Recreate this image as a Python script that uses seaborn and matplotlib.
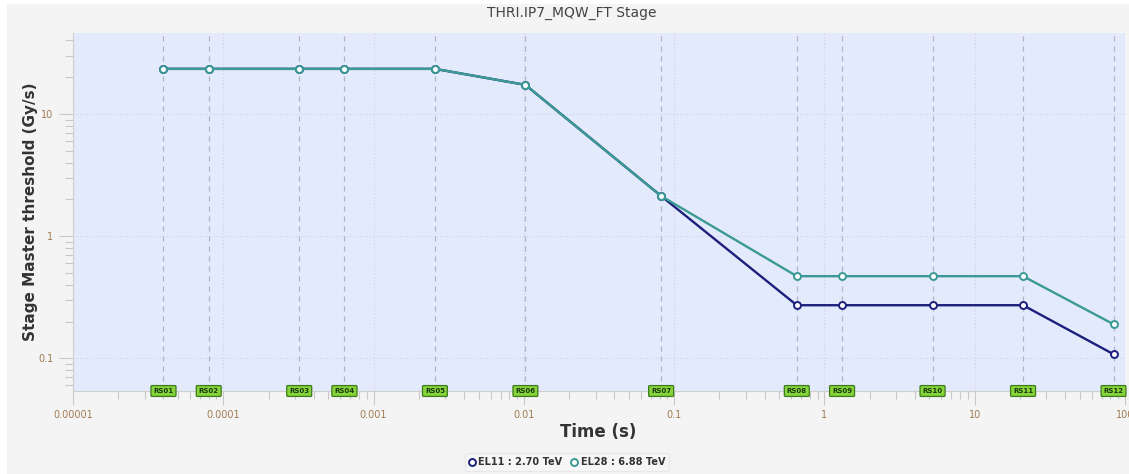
import matplotlib
matplotlib.use("Agg")
import matplotlib.pyplot as plt
import matplotlib.ticker as mticker
from matplotlib.patches import Rectangle
import seaborn as sns
import pandas as pd
import numpy as np

# ---- data ----
rs_labels = ["RS01", "RS02", "RS03", "RS04", "RS05", "RS06",
             "RS07", "RS08", "RS09", "RS10", "RS11", "RS12"]
rs_times = [4e-5, 8e-5, 3.2e-4, 6.4e-4, 2.56e-3, 1.024e-2,
            8.192e-2, 0.655, 1.31, 5.24, 20.97, 83.89]
el11_values = [23.4, 23.4, 23.4, 23.4, 23.4, 17.3,
               2.13, 0.272, 0.272, 0.272, 0.272, 0.108]
el28_values = [23.4, 23.4, 23.4, 23.4, 23.4, 17.3,
               2.13, 0.47, 0.47, 0.47, 0.47, 0.19]
series_names = ["EL11 : 2.70 TeV", "EL28 : 6.88 TeV"]
x_ticks = [1e-5, 1e-4, 1e-3, 1e-2, 1e-1, 1, 10, 100]
x_ticklabels = ["0.00001", "0.0001", "0.001", "0.01", "0.1", "1", "10", "100"]
y_ticks = [0.1, 1, 10]
y_ticklabels = ["0.1", "1", "10"]

df = pd.DataFrame({
    "time": rs_times * 2,
    "value": el11_values + el28_values,
    "series": [series_names[0]] * len(rs_times) + [series_names[1]] * len(rs_times),
})

sns.set_style("white")
plt.rcParams['font.family'] = ['DejaVu Sans']

W, H = 1129, 474
fig = plt.figure(figsize=(W / 100, H / 100), dpi=100, facecolor="white")
fig.patches.append(Rectangle((7 / W, 0), 1 - 7 / W, 1 - 4 / H, transform=fig.transFigure,
                             facecolor="#f4f4f4", edgecolor="none", zorder=-10))
ax = fig.add_axes([73 / W, 1 - 391 / H, (1125 - 73) / W, (391 - 33) / H])
ax.set_facecolor("#e3eafb")

colors = {series_names[0]: "#1c1f7c", series_names[1]: "#3b9a95"}

for name in series_names:
    sub = df[df["series"] == name]
    sns.lineplot(data=sub, x="time", y="value", ax=ax, color=colors[name],
                 linewidth=1.7, marker="o", markersize=5, markerfacecolor="white",
                 markeredgecolor=colors[name], markeredgewidth=1.4,
                 label=name, zorder=5, legend=False)

ax.set_xscale("log")
ax.set_yscale("log")
ax.set_xlim(1e-5, 100)
ax.set_ylim(0.054, 46)

# grids
for xv in x_ticks:
    ax.axvline(xv, color="#cdd2e4", linestyle=(0, (1, 2)), linewidth=0.8, zorder=1)
for yv in y_ticks:
    ax.axhline(yv, color="#cdd2e4", linestyle=(0, (1, 2)), linewidth=0.8, zorder=1)

# RS dashed lines and labels
for t, lab in zip(rs_times, rs_labels):
    ax.axvline(t, color="#b0b3c2", linestyle=(0, (4, 4)), linewidth=0.9, zorder=2)
    ax.text(t, 0.0, lab, transform=ax.get_xaxis_transform(), ha="center", va="center",
            fontsize=5, fontweight="bold", color="#1a3a10", zorder=8,
            bbox=dict(boxstyle="round,pad=0.35,rounding_size=0.15", facecolor="#86d43a",
                      edgecolor="#3d7a1e", linewidth=0.9), clip_on=False)

ax.set_xticks(x_ticks)
ax.set_xticklabels(x_ticklabels)
ax.set_yticks(y_ticks)
ax.set_yticklabels(y_ticklabels)
ax.xaxis.set_minor_locator(mticker.LogLocator(base=10, subs=np.arange(2, 10)))
ax.yaxis.set_minor_locator(mticker.LogLocator(base=10, subs=np.arange(2, 10)))
ax.xaxis.set_minor_formatter(mticker.NullFormatter())
ax.yaxis.set_minor_formatter(mticker.NullFormatter())
ax.tick_params(axis="both", which="both", bottom=True, left=True, top=False, right=False)
ax.tick_params(axis="both", which="major", direction="out", length=10, width=0.8,
               color="#c8c8c8", labelsize=7, labelcolor="#a07a52", pad=4)
ax.tick_params(axis="both", which="minor", direction="out", length=6, width=0.8,
               color="#c8c8c8")

for s in ["top", "right"]:
    ax.spines[s].set_visible(False)
for s in ["left", "bottom"]:
    ax.spines[s].set_color("#cfcfcf")
    ax.spines[s].set_linewidth(0.8)

ax.set_xlabel("")
ax.set_ylabel("")
fig.text(598 / W, 1 - 432 / H, "Time (s)", ha="center", va="center",
         fontsize=12, fontweight="bold", color="#333333")
fig.text(31 / W, 1 - 212 / H, "Stage Master threshold (Gy/s)", ha="center", va="center",
         rotation=90, fontsize=11, fontweight="bold", color="#333333")

fig.text(572 / W, 1 - 13 / H, "THRI.IP7_MQW_FT Stage", ha="center", va="center",
         fontsize=10, color="#444444")

handles, labels = ax.get_legend_handles_labels()
leg = fig.legend(handles, labels, loc="center", bbox_to_anchor=(567 / W, 1 - 462 / H),
                 ncol=2, frameon=True, handlelength=0.6, handletextpad=0.4,
                 columnspacing=0.9, borderpad=0.4, prop={"weight": "bold", "size": 7})
leg.get_frame().set_facecolor("#f7f7f7")
leg.get_frame().set_edgecolor("#e6e6e6")
for h in leg.legend_handles:
    h.set_linestyle("none")
for t in leg.get_texts():
    t.set_color("#333333")

fig.savefig("out.png", dpi=100, facecolor=fig.get_facecolor())
